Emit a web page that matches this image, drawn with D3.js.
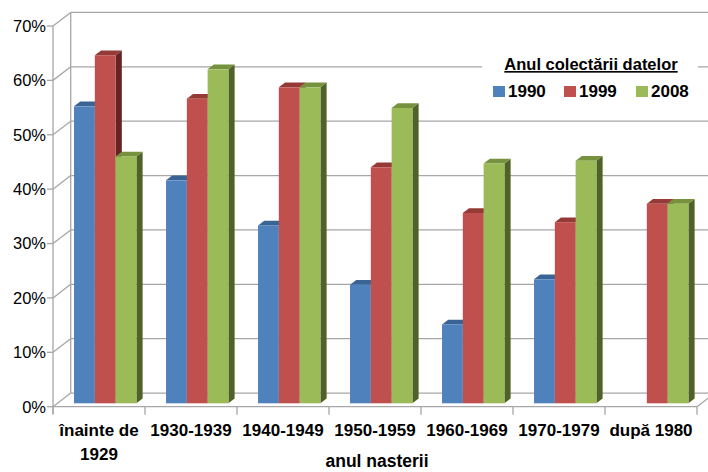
<!DOCTYPE html>
<html>
<head>
<meta charset="utf-8">
<script src="https://cdn.jsdelivr.net/npm/d3@7"></script>
<style>
  body { margin: 0; background: #fff; }
  svg { font-family: "Liberation Sans", Arial, sans-serif; }
  .grid line, .grid path { stroke: #a6a6a6; stroke-width: 1.3; fill: none; }
  .tick-lbl { font-size: 16.5px; fill: #000; }
  .cat-lbl { font-size: 17px; font-weight: bold; fill: #000; }
</style>
</head>
<body>
<div id="chart"></div>
<script>
// chart data
const categories = ["înainte de\n1929", "1930-1939", "1940-1949", "1950-1959", "1960-1969", "1970-1979", "după 1980"];
const seriesNames = ["1990", "1999", "2008"];
const values1990 = [0.546, 0.410, 0.327, 0.218, 0.145, 0.228, null];
const values1999 = [0.640, 0.560, 0.581, 0.434, 0.350, 0.333, 0.367];
const values2008 = [0.454, 0.614, 0.581, 0.543, 0.441, 0.446, 0.367];
const yTicks = [0, 0.1, 0.2, 0.3, 0.4, 0.5, 0.6, 0.7];

const colors = {
  front: ["#4F81BD", "#C0504D", "#9BBB59"],
  top:   ["#3B6496", "#953A37", "#77923F"],
  side:  ["#28436A", "#632523", "#4F6228"]
};

const W = 708, H = 472;
const svg = d3.select("#chart").append("svg")
    .attr("width", W)
    .attr("height", H);

// front plane scales; the back wall is the front plane shifted by (DX, DY)
const DX = 17.7, DY = -13.6;
const x = d3.scaleBand().domain(categories).range([53, 697]);
const y = d3.scaleLinear().domain([0, 0.7]).range([406.7, 26]);

// depth position of bars (fraction of full depth)
const barT0 = 0.25, barT1 = 0.6;
const inner = d3.scaleBand().domain(seriesNames).range([16.6, 16.6 + 62.4]);

const grid = svg.append("g").attr("class", "grid");

// back wall gridlines
grid.selectAll("line.back")
  .data(yTicks)
  .enter().append("line")
    .attr("class", "back")
    .attr("x1", 53 + DX).attr("x2", 697 + DX)
    .attr("y1", d => y(d) + DY).attr("y2", d => y(d) + DY);

// side wall diagonals
grid.selectAll("line.side")
  .data(yTicks)
  .enter().append("line")
    .attr("class", "side")
    .attr("x1", 53).attr("x2", 53 + DX)
    .attr("y1", d => y(d)).attr("y2", d => y(d) + DY);

// wall verticals
grid.append("line")
    .attr("x1", 53 + DX).attr("x2", 53 + DX)
    .attr("y1", y(0.7) + DY).attr("y2", y(0) + DY);
grid.append("line")
    .attr("x1", 53).attr("x2", 53)
    .attr("y1", y(0.7)).attr("y2", y(0) + 7);

// floor front edge and right edge
grid.append("line")
    .attr("x1", 53).attr("x2", 697)
    .attr("y1", y(0)).attr("y2", y(0));
grid.append("line")
    .attr("x1", 697).attr("x2", 697 + DX)
    .attr("y1", y(0)).attr("y2", y(0) + DY);

// y ticks and labels
grid.selectAll("line.ytick")
  .data(yTicks)
  .enter().append("line")
    .attr("class", "ytick")
    .attr("x1", 47).attr("x2", 53)
    .attr("y1", d => y(d)).attr("y2", d => y(d));

svg.append("g").selectAll("text")
  .data(yTicks)
  .enter().append("text")
    .attr("class", "tick-lbl")
    .attr("x", 46)
    .attr("y", d => y(d))
    .attr("dy", "0.36em")
    .attr("text-anchor", "end")
    .text(d3.format(".0%"));

// category ticks
const edges = categories.map(c => x(c)).concat([x.range()[1]]);
grid.selectAll("line.xtick")
  .data(edges)
  .enter().append("line")
    .attr("class", "xtick")
    .attr("x1", d => d).attr("x2", d => d)
    .attr("y1", y(0)).attr("y2", y(0) + 8);

// bars
const allSeries = [values1990, values1999, values2008];
const bars = svg.append("g");
categories.forEach((c, ci) => {
  seriesNames.forEach((s, si) => {
    const v = allSeries[si][ci];
    if (v == null) return;
    const x0 = x(c) + barT0 * DX + inner(s);
    const x1 = x0 + inner.bandwidth();
    const yb = y(0) + barT0 * DY;
    const yt = y(v) + barT0 * DY;
    const ddx = (barT1 - barT0) * DX, ddy = (barT1 - barT0) * DY;
    // side
    bars.append("path")
        .attr("d", `M${x1},${yt}L${x1 + ddx},${yt + ddy}L${x1 + ddx},${yb + ddy}L${x1},${yb}Z`)
        .attr("fill", colors.side[si]);
    // top
    bars.append("path")
        .attr("d", `M${x0},${yt}L${x0 + ddx},${yt + ddy}L${x1 + ddx},${yt + ddy}L${x1},${yt}Z`)
        .attr("fill", colors.top[si]);
    // front
    bars.append("rect")
        .attr("x", x0).attr("y", yt)
        .attr("width", x1 - x0).attr("height", yb - yt)
        .attr("fill", colors.front[si]);
  });
});

// category labels
svg.append("g").selectAll("text")
  .data(categories)
  .enter().append("text")
    .attr("class", "cat-lbl")
    .attr("text-anchor", "middle")
    .attr("x", d => x(d) + x.bandwidth() / 2)
    .attr("y", 436)
  .selectAll("tspan")
  .data(d => d.split("\n"))
  .enter().append("tspan")
    .attr("x", function() { return d3.select(this.parentNode).attr("x"); })
    .attr("dy", (d, i) => i === 0 ? 0 : 24)
    .text(d => d);

// axis title
svg.append("text")
    .attr("text-anchor", "middle")
    .attr("font-size", "17.5px")
    .attr("font-weight", "bold")
    .attr("x", 377)
    .attr("y", 467)
    .text("anul nasterii");

// legend
const legend = svg.append("g");
legend.append("rect")
    .attr("x", 482).attr("y", 48)
    .attr("width", 216).attr("height", 64)
    .attr("fill", "#fff");
legend.append("text")
    .attr("x", 591).attr("y", 70)
    .attr("text-anchor", "middle")
    .attr("font-size", "16.5px")
    .attr("font-weight", "bold")
    .attr("text-decoration", "underline")
    .text("Anul colectării datelor");

const legendX = [493, 564, 636];
seriesNames.forEach((s, i) => {
  legend.append("rect")
      .attr("x", legendX[i]).attr("y", 86)
      .attr("width", 12).attr("height", 11)
      .attr("fill", colors.front[i]);
  legend.append("text")
      .attr("x", legendX[i] + 15).attr("y", 97)
      .attr("font-size", "17px")
      .attr("font-weight", "bold")
      .text(s);
});
</script>
</body>
</html>
